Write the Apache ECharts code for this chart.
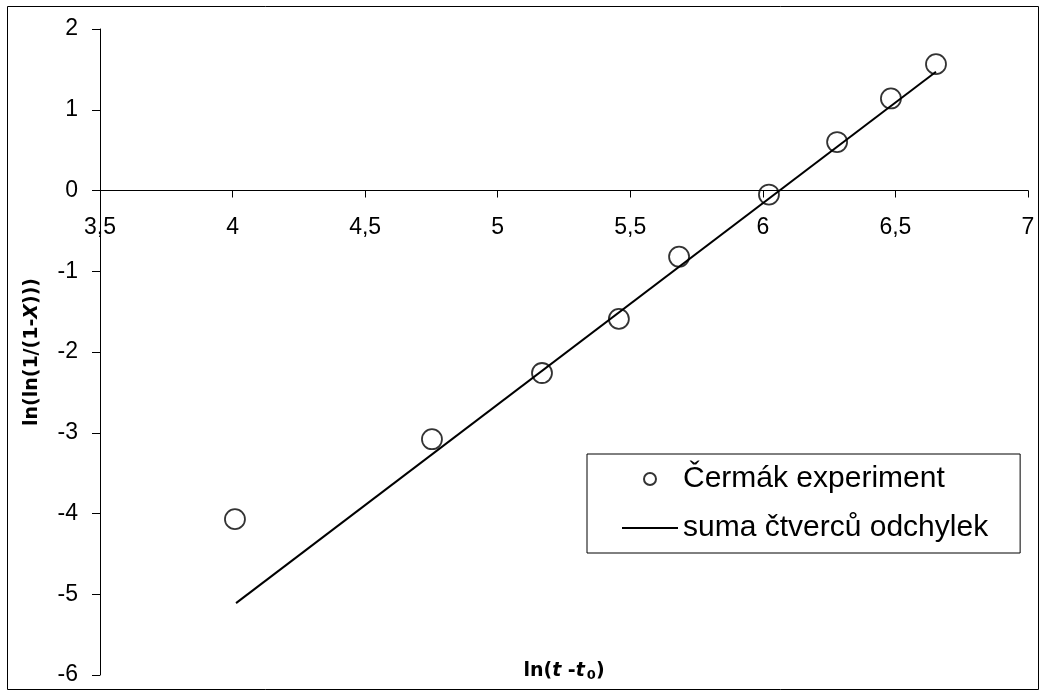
<!DOCTYPE html>
<html>
<head>
<meta charset="utf-8">
<script src="https://cdn.jsdelivr.net/npm/echarts@6/dist/echarts.min.js"></script>
<style>html,body{margin:0;padding:0;background:#fff}#c{width:1044px;height:695px}</style>
</head>
<body>
<div id="c"></div>
<script>
// Experimental points
const expX = [4.009, 4.752, 5.167, 5.457, 5.684, 6.023, 6.280, 6.483, 6.653];
const expY = [-4.07, -3.08, -2.26, -1.59, -0.82, -0.05, 0.60, 1.14, 1.565];
// Fitted line end points
const fitX = [4.013, 6.653];
const fitY = [-5.11, 1.47];
const seriesNames = ['Čermák experiment', 'suma čtverců odchylek'];
const xTicks = { min: 3.5, max: 7, interval: 0.5 };
const yTicks = { min: -6, max: 2, interval: 1 };

const chart = echarts.init(document.getElementById('c'), null, { renderer: 'canvas' });
const tickFont = 'Liberation Sans, Arial, sans-serif';
const titleFont = 'DejaVu Sans, Verdana, sans-serif';

const gridTop = 29, gridBottom = 20, H = 695;
const plotH = H - gridTop - gridBottom;
// distance (px) from the bottom of the plot to y = 0
const zeroOffset = plotH * (0 - yTicks.min) / (yTicks.max - yTicks.min);

chart.setOption({
  animation: false,
  backgroundColor: '#fff',
  grid: { left: 100, right: 16, top: gridTop, bottom: gridBottom, containLabel: false, outerBoundsMode: 'none' },
  xAxis: {
    type: 'value', min: xTicks.min, max: xTicks.max, interval: xTicks.interval,
    position: 'bottom', offset: -zeroOffset,
    axisLine: { onZero: false, lineStyle: { color: '#000', width: 1 } },
    axisTick: { show: true, inside: false, length: 7, lineStyle: { color: '#000' } },
    axisLabel: { margin: 26, color: '#000', fontSize: 23, fontFamily: tickFont, hideOverlap: false,
      formatter: v => String(v).replace('.', ',') },
    splitLine: { show: false }
  },
  yAxis: {
    type: 'value', min: yTicks.min, max: yTicks.max, interval: yTicks.interval,
    axisLine: { show: true, onZero: false, lineStyle: { color: '#000', width: 1 } },
    axisTick: { show: true, inside: false, length: 8, lineStyle: { color: '#000' } },
    axisLabel: { margin: 22, color: '#000', fontSize: 23, fontFamily: tickFont },
    splitLine: { show: false },
    name: '{b|ln(ln(1/(1-}{bi|X}{b|)))}',
    nameLocation: 'middle', nameGap: 58, nameRotate: 90,
    nameTextStyle: {
      rich: {
        b: { fontSize: 19, fontWeight: 'bold', fontFamily: titleFont, color: '#000' },
        bi: { fontSize: 19, fontWeight: 'bold', fontStyle: 'italic', fontFamily: titleFont, color: '#000' }
      }
    }
  },
  legend: {
    orient: 'vertical', left: 587, top: 454,
    padding: [10, 32, 10, 34],
    backgroundColor: '#fff', borderColor: '#000', borderWidth: 1, borderRadius: 0,
    itemWidth: 56, itemHeight: 12, itemGap: 19,
    textStyle: { fontSize: 30, lineHeight: 30, color: '#000', fontFamily: tickFont },
    data: seriesNames
  },
  graphic: [
    { type: 'rect', silent: true, z: -10,
      shape: { x: 7.5, y: 6.5, width: 1031, height: 683 },
      style: { fill: 'none', stroke: '#000', lineWidth: 1 } },
    { type: 'text', x: 564, y: 671,
      style: {
        text: '{n|ln(}{i|t}{n| -}{i|t}{s|0}{n|)}',
        align: 'center', verticalAlign: 'middle',
        rich: {
          n: { fontSize: 19, fontWeight: 'bold', fontFamily: titleFont, fill: '#000', color: '#000' },
          i: { fontSize: 19, fontWeight: 'bold', fontStyle: 'italic', fontFamily: titleFont, fill: '#000', color: '#000' },
          s: { fontSize: 13, fontWeight: 'bold', fontFamily: titleFont, fill: '#000', color: '#000', padding: [10, 0, 0, 2] }
        }
      } }
  ],
  series: [
    {
      name: seriesNames[0], type: 'scatter',
      symbol: 'circle', symbolSize: 20,
      itemStyle: { color: 'rgba(255,255,255,0)', borderColor: '#000', borderWidth: 1.8 },
      z: 3,
      data: expX.map((x, i) => [x, expY[i]])
    },
    {
      name: seriesNames[1], type: 'line',
      symbol: 'none', showSymbol: false,
      lineStyle: { color: '#000', width: 2 },
      itemStyle: { color: 'rgba(0,0,0,0)', borderWidth: 0 },
      z: 2,
      data: fitX.map((x, i) => [x, fitY[i]])
    }
  ]
});
</script>
</body>
</html>
